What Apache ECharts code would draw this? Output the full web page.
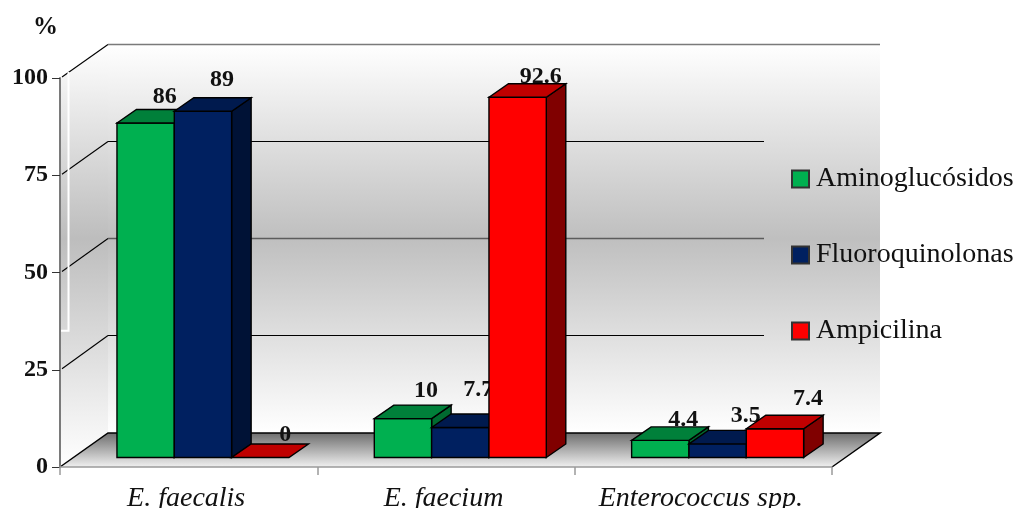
<!DOCTYPE html>
<html>
<head>
<meta charset="utf-8">
<style>html,body{margin:0;padding:0;background:#fff}#chart{width:1016px;height:508px}</style>
<script src="https://cdn.jsdelivr.net/npm/echarts@6/dist/echarts.min.js"></script>
</head>
<body>
<div id="chart"></div>
<script>
const categories = ['E. faecalis', 'E. faecium', 'Enterococcus spp.'];
const yTicks = [0, 25, 50, 75, 100];
const aminoglucosidos = [86, 10, 4.4];
const fluoroquinolonas = [89, 7.7, 3.5];
const ampicilina = [0, 92.6, 7.4];

// Hand placement of the value labels, relative to the top of each bar: [dx, dy].
const aminoNudge = [[19, -26], [23, -28], [23, -21]];
const fluoroNudge = [[19, -31], [18, -38], [28, -28]];
const ampiNudge = [[25, -23], [23, -20], [33, -30]];

const SERIF = '"Liberation Serif", "Times New Roman", serif';
const WALL = { dx: 48, dy: 34 };       // shift from the front plane to the back wall
const BAR_DEPTH = { dx: 19.5, dy: 13.5 };
const BAR_INSET = { dx: 14.3, dy: 9.5 }; // shift from the front plane to the bars' front face
const BAR_SHARE = 0.2228;              // bar width as a share of the category band

const lineStyle = (stroke, lineWidth) => ({ stroke, lineWidth, fill: null });
const crisp = v => Math.floor(v) + 0.5;

// Walls, floor and the gridlines that wrap from the side wall onto the back wall.
function renderFrame(params, api) {
  const g = params.coordSys;
  const y0 = api.coord([0, 0])[1];
  const y100 = api.coord([0, 100])[1];
  const left = g.x, right = g.x + g.width;
  const backX = left + WALL.dx;
  const kids = [
    { type: 'polygon', shape: { points: [[backX, y100 - WALL.dy], [right + WALL.dx, y100 - WALL.dy], [right + WALL.dx, y0 - WALL.dy], [backX, y0 - WALL.dy]] },
      style: { fill: new echarts.graphic.LinearGradient(0, 0, 0, 1, [
        { offset: 0, color: '#ffffff' }, { offset: 0.5, color: '#bfbfbf' }, { offset: 1, color: '#ffffff' }
      ]) } },
    { type: 'polygon', shape: { points: [[left, y100], [backX, y100 - WALL.dy], [backX, y0 - WALL.dy], [left, y0]] },
      style: { fill: new echarts.graphic.LinearGradient(0, 0, 0, 1, [
        { offset: 0, color: '#ffffff' }, { offset: 0.46, color: '#bdbdbd' }, { offset: 1, color: '#ffffff' }
      ]) } },
    { type: 'polygon', shape: { points: [[left, y0], [backX, y0 - WALL.dy], [right + WALL.dx, y0 - WALL.dy], [right, y0]] },
      style: { fill: new echarts.graphic.LinearGradient(0, 0, 0, 1, [
        { offset: 0, color: '#6e6e6e' }, { offset: 1, color: '#f0f0f0' }
      ]) } },
    { type: 'polyline', shape: { points: [[left, y0], [backX, y0 - WALL.dy], [right + WALL.dx, y0 - WALL.dy], [right, y0]] },
      style: lineStyle('#000000', 1.5) }
  ];
  yTicks.filter(v => v > 0).forEach(v => {
    const y = api.coord([0, v])[1];
    const backY = crisp(y - WALL.dy);
    const top = v === 100;
    kids.push({ type: 'line', shape: { x1: left + 2, y1: y - 1, x2: backX, y2: backY }, style: lineStyle('#000000', 1.1) });
    kids.push({ type: 'line', shape: { x1: backX, y1: backY, x2: top ? right + WALL.dx : 764, y2: backY },
      style: lineStyle(top ? '#7a7a7a' : v === 50 ? '#5c5c5c' : '#000000', top || v === 50 ? 1.5 : 1) });
  });
  // Pale bracket that sits on the side wall next to the value axis.
  const bracketFoot = api.coord([0, 35])[1];
  kids.push({ type: 'polyline', shape: { points: [[left + 8.5, y100 - 6], [left + 8.5, bracketFoot], [left, bracketFoot]] },
    style: lineStyle('#ffffff', 2) });
  return { type: 'group', children: kids };
}

// One extruded bar with its value label, so a later bar can hide part of an earlier label.
function makeBarRenderer(slot, faces, nudges) {
  return function (params, api) {
    const cat = api.value(0), val = api.value(1);
    const band = api.size([1, 0])[0];
    const w = band * BAR_SHARE;
    const base = api.coord([cat, 0]);
    const head = api.coord([cat, val]);
    const x0 = base[0] + BAR_INSET.dx + (slot - 1.5) * w;
    const x1 = x0 + w;
    const yb = base[1] - BAR_INSET.dy;
    const yt = head[1] - BAR_INSET.dy;
    const d = BAR_DEPTH;
    const edge = { stroke: '#000000', lineWidth: 1.4 };
    const n = nudges[cat];
    const kids = [
      { type: 'text', style: { text: String(val), x: (x0 + x1) / 2 + n[0], y: yt + n[1],
        font: 'bold 24px ' + SERIF, fill: '#111111', textAlign: 'center', textVerticalAlign: 'middle' } }
    ];
    if (val > 0) {
      kids.push({ type: 'polygon', shape: { points: [[x1, yb], [x1 + d.dx, yb - d.dy], [x1 + d.dx, yt - d.dy], [x1, yt]] },
        style: Object.assign({ fill: faces.side }, edge) });
      kids.push({ type: 'rect', shape: { x: x0, y: yt, width: w, height: yb - yt },
        style: Object.assign({ fill: faces.front }, edge) });
    }
    kids.push({ type: 'polygon', shape: { points: [[x0, yt], [x0 + d.dx, yt - d.dy], [x1 + d.dx, yt - d.dy], [x1, yt]] },
      style: Object.assign({ fill: faces.top }, edge) });
    return { type: 'group', children: kids };
  };
}

function barSeries(name, values, slot, faces, nudges) {
  return {
    name, type: 'custom', z: 3 + slot,
    itemStyle: { color: faces.front, borderColor: '#333333', borderWidth: 1 },
    encode: { x: 0, y: 1 },
    data: values.map((v, i) => [i, v]),
    renderItem: makeBarRenderer(slot, faces, nudges)
  };
}

const chart = echarts.init(document.getElementById('chart'), null, { renderer: 'canvas' });
chart.setOption({
  animation: false,
  backgroundColor: '#ffffff',
  title: { text: '%', left: 28, top: 10, textStyle: { fontFamily: SERIF, fontSize: 25, fontWeight: 'bold', color: '#111111' } },
  grid: { left: 60, top: 78, width: 772, height: 389, containLabel: false, outerBoundsMode: 'none' },
  legend: {
    left: 786, top: 159, orient: 'vertical', itemWidth: 17, itemHeight: 17, itemGap: 46,
    selectedMode: false, icon: 'rect',
    textStyle: { fontFamily: SERIF, fontSize: 28, color: '#111111', lineHeight: 30, padding: [0, 0, 0, 2] },
    data: ['Aminoglucósidos', 'Fluoroquinolonas', 'Ampicilina']
  },
  xAxis: {
    type: 'category', data: categories, z: 8,
    axisLine: { lineStyle: { color: '#9a9a9a', width: 1.5 } },
    axisTick: { show: true, length: 8, lineStyle: { color: '#9a9a9a', width: 1.5 } },
    axisLabel: { fontFamily: SERIF, fontSize: 28, fontStyle: 'italic', color: '#111111', margin: 18, interval: 0, hideOverlap: false, padding: [0, 5, 0, 0] }
  },
  yAxis: {
    type: 'value', min: 0, max: 100, interval: 25, z: 8,
    splitLine: { show: false },
    axisLine: { show: true, lineStyle: { color: '#7a7a7a', width: 2 } },
    axisTick: { show: true, length: 8, lineStyle: { color: '#333333', width: 1 } },
    axisLabel: { fontFamily: SERIF, fontSize: 24, fontWeight: 'bold', color: '#111111', margin: 12, padding: [6, 0, 0, 0] }
  },
  series: [
    { type: 'custom', name: 'frame', silent: true, z: 1, data: [[0, 0]], encode: { x: 0, y: 1 }, renderItem: renderFrame, clip: false },
    barSeries('Aminoglucósidos', aminoglucosidos, 0, { front: '#00b050', top: '#00803a', side: '#006a30' }, aminoNudge),
    barSeries('Fluoroquinolonas', fluoroquinolonas, 1, { front: '#002060', top: '#001a4e', side: '#001236' }, fluoroNudge),
    barSeries('Ampicilina', ampicilina, 2, { front: '#ff0000', top: '#c00000', side: '#800000' }, ampiNudge)
  ]
});
</script>
</body>
</html>
